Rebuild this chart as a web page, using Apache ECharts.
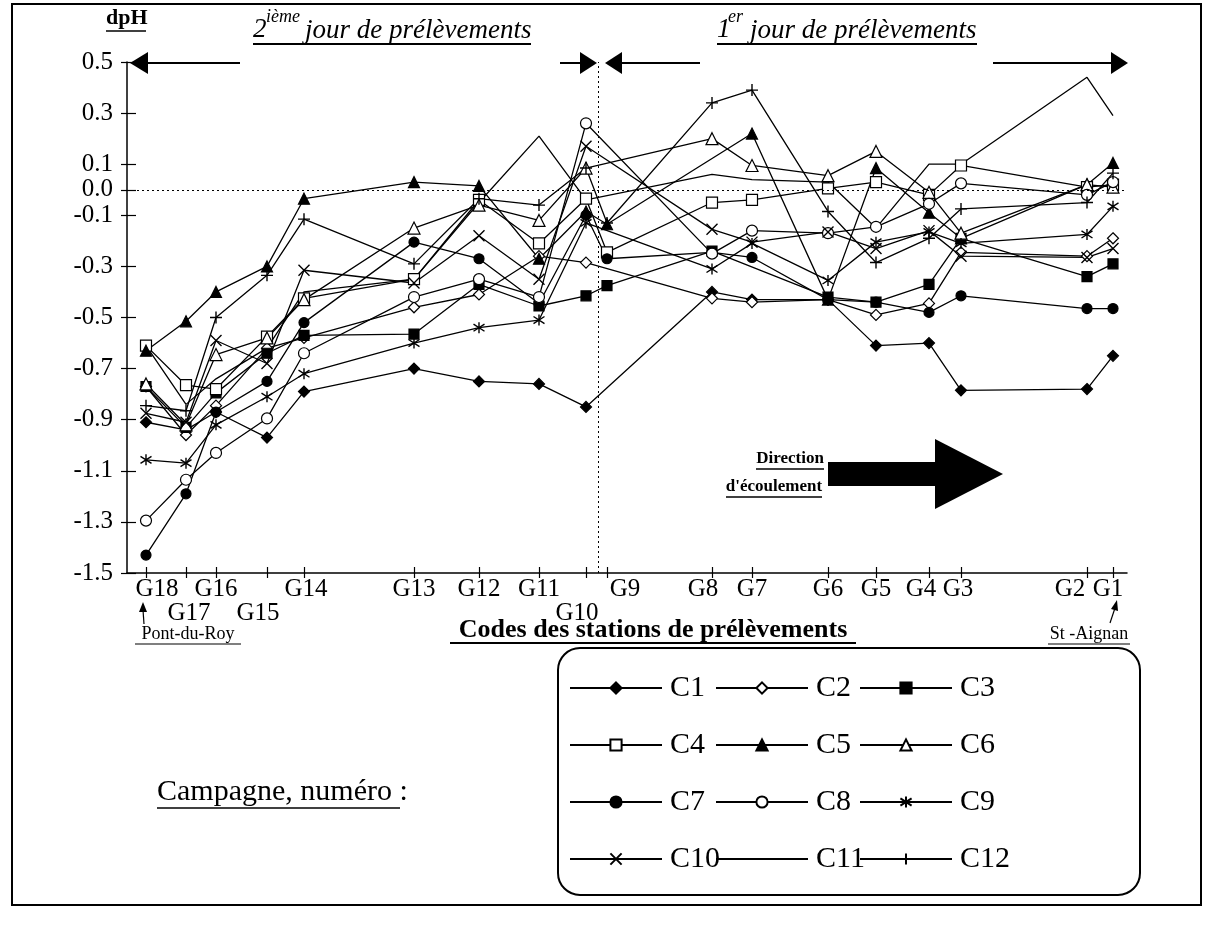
<!DOCTYPE html>
<html><head><meta charset="utf-8">
<script src="https://cdn.jsdelivr.net/npm/echarts@6/dist/echarts.min.js"></script>
<style>html,body{margin:0;padding:0;background:#fff}#c{width:1215px;height:929px}</style>
</head><body><div id="c"></div>
<script>
// ---------------- data ----------------
const stations = ['G18','G17','G16','G15','G14','G13','G12','G11','G10','G9','G8','G7','G6','G5','G4','G3','G2','G1'];
const stationKm = [1.9,5.9,8.9,14.0,17.7,28.7,35.2,41.2,45.9,48.0,58.5,62.5,70.1,74.9,80.2,83.4,96.0,98.6];
const lowerLabels = ['G17','G15','G10'];
const yTickValues = [0.5,0.3,0.1,0.0,-0.1,-0.3,-0.5,-0.7,-0.9,-1.1,-1.3,-1.5];
const dayBoundaryKm = 47.1;
const campaigns = ['C1','C2','C3','C4','C5','C6','C7','C8','C9','C10','C11','C12'];
//            G18    G17    G16    G15    G14    G13    G12    G11    G10    G9     G8     G7     G6     G5     G4     G3     G2     G1
const C1  = [-0.91,-0.94,-0.87,-0.97,-0.79,-0.70,-0.75,-0.76,-0.85, null,-0.40,-0.43,-0.43,-0.61,-0.60,-0.785,-0.78,-0.65];
const C2  = [-0.77,-0.96,-0.845,-0.62,-0.58,-0.46,-0.41,-0.26,-0.285,null,-0.425,-0.44,-0.43,-0.49,-0.445,-0.245,-0.26,-0.19];
const C3  = [-0.77,-0.93,-0.795,-0.64,-0.57,-0.565,-0.37,-0.455,-0.415,-0.375,-0.24,null,-0.42,-0.44,-0.37,-0.19,-0.34,-0.29];
const C4  = [-0.61,-0.765,-0.78,-0.575,-0.425,-0.35,-0.04,-0.21,-0.035,-0.245,-0.05,-0.04,0.005,0.03,-0.02,0.095,0.01,0.02];
const C5  = [-0.63,-0.515,-0.40,-0.30,-0.035,0.03,0.015,-0.27,-0.085,-0.135,null,0.22,-0.43,0.085,-0.09,-0.19,0.02,0.105];
const C6  = [-0.76,-0.92,-0.645,-0.58,-0.43,-0.15,-0.06,-0.12,0.085,null,0.20,0.095,0.055,0.15,-0.01,-0.17,0.02,0.01];
const C7  = [-1.43,-1.19,-0.87,-0.75,-0.52,-0.205,-0.27,-0.445,-0.10,-0.27,-0.245,-0.265,-0.43,-0.44,-0.48,-0.415,-0.465,-0.465];
const C8  = [-1.295,-1.135,-1.03,-0.895,-0.64,-0.42,-0.35,-0.42,0.26,null,-0.25,-0.16,-0.17,-0.145,-0.055,0.025,-0.02,0.03];
const C9  = [-1.057,-1.07,-0.92,-0.81,-0.72,-0.60,-0.54,-0.51,-0.13,null,-0.31,-0.21,-0.355,-0.205,-0.165,-0.21,-0.175,-0.065];
const C10 = [-0.875,-0.91,-0.59,-0.68,-0.315,-0.365,-0.18,-0.35,0.17,null,-0.155,-0.205,-0.165,-0.23,-0.16,-0.26,-0.265,-0.23];
const C11 = [-0.61,-0.84,-0.74,-0.62,-0.40,-0.35,-0.05,0.21,-0.04,null,0.06,0.04,0.03,-0.15,0.10,0.10,0.44,0.29];
const C12 = [-0.845,-0.865,-0.50,-0.335,-0.115,-0.29,-0.035,-0.06,0.085,-0.13,0.34,0.39,-0.085,-0.285,-0.19,-0.075,-0.05,0.065];
const allValues = [C1,C2,C3,C4,C5,C6,C7,C8,C9,C10,C11,C12];

// ---------------- styles ----------------
const FONT = '"Liberation Serif","Times New Roman",serif';
const BLK = '#000';
const P_X = 'path://M0 0L10 10M10 0L0 10';
const P_PLUS = 'path://M5 0L5 10M0 5L10 5';
const P_AST = 'path://M5 0L5 10M0.7 1.8L9.3 8.2M9.3 1.8L0.7 8.2';
const markerStyles = [
  {symbol:'diamond', size:11, fill:BLK},
  {symbol:'diamond', size:11, fill:'#fff'},
  {symbol:'rect', size:10, fill:BLK},
  {symbol:'rect', size:11, fill:'#fff'},
  {symbol:'triangle', size:11, fill:BLK},
  {symbol:'triangle', size:12, fill:'#fff'},
  {symbol:'circle', size:10, fill:BLK},
  {symbol:'circle', size:11, fill:'#fff'},
  {symbol:P_AST, size:11, fill:'transparent'},
  {symbol:P_X, size:11, fill:'transparent'},
  {symbol:'none', size:0, fill:BLK},
  {symbol:P_PLUS, size:12, fill:'transparent'}
];
// horizontal nudge of some station labels (axis units) as in the original layout
const labelNudge = {G18:1.1, G17:0.3, G15:-0.9, G14:0.2, G10:-0.9, G9:1.8, G8:-0.9, G4:-0.8, G3:-0.3, G2:-1.7, G1:-0.5};
const upperPos = [], upperName = [], lowerPos = [], lowerName = [];
stations.forEach((s,i)=>{
  const p = +(stationKm[i] + (labelNudge[s]||0)).toFixed(3);
  if(lowerLabels.includes(s)){ lowerPos.push(p); lowerName.push(s); }
  else { upperPos.push(p); upperName.push(s); }
});
const nameAt = (pos, names) => (v) => { const i = pos.findIndex(k=>Math.abs(k-v)<1e-6); return i<0?'':names[i]; };

const series = campaigns.map((name,k)=>{
  const m = markerStyles[k];
  const data = [];
  allValues[k].forEach((v,i)=>{ if(v!==null) data.push([stationKm[i], v]); });
  const s = {
    name, type:'line', data, xAxisIndex:0, yAxisIndex:0,
    symbol:m.symbol, symbolSize:m.size, showSymbol: m.symbol!=='none',
    lineStyle:{color:BLK, width:1.3},
    itemStyle:{color:m.fill, borderColor:BLK, borderWidth: (m.fill==='transparent')?1.4:1.2},
    emphasis:{disabled:true}, silent:true, z: 3
  };
  if(k===0){
    s.markLine = {silent:true, symbol:['none','none'], label:{show:false},
      lineStyle:{type:[2,3], color:BLK, width:1},
      data:[{xAxis:dayBoundaryKm},{yAxis:0}]};
  }
  return s;
});

const legendBase = {orient:'vertical', top:673, padding:0, itemWidth:92, itemHeight:14, itemGap:27,
  selectedMode:false, textStyle:{fontSize:30, fontFamily:FONT, color:BLK, lineHeight:30, padding:[0,0,0,3]}};

const T = (text, x, y, font, align) => ({type:'text', silent:true, style:{text, x, y, font, fill:BLK, align:align||'left', verticalAlign:'middle'}});
const L = (x1,y1,x2,y2,w) => ({type:'line', silent:true, shape:{x1,y1,x2,y2}, style:{stroke:BLK, lineWidth:w||1.5}});
const P = (pts) => ({type:'polygon', silent:true, shape:{points:pts}, style:{fill:BLK}});

const graphics = [
  {type:'rect', silent:true, shape:{x:12,y:4,width:1189,height:901}, style:{fill:'none', stroke:BLK, lineWidth:2}},
  // y title
  T('dpH', 106, 18, 'bold 22px '+FONT), L(106,31,146,31,1.5),
  // day 2 banner
  P([[130,63],[148,52],[148,74]]), L(146,63,240,63,2),
  T('2', 253, 30, 'italic 27px '+FONT), T('ième', 266, 17, 'italic 18px '+FONT),
  T('jour de prélèvements', 305, 31, 'italic 27px '+FONT), L(253,44,531,44,2),
  L(560,63,582,63,2), P([[597,63],[580,52],[580,74]]),
  // day 1 banner
  P([[605,63],[622,52],[622,74]]), L(620,63,700,63,2),
  T('1', 717, 30, 'italic 27px '+FONT), T('er', 728, 17, 'italic 18px '+FONT),
  T('jour de prélèvements', 750, 31, 'italic 27px '+FONT), L(717,44,977,44,2),
  L(993,63,1112,63,2), P([[1128,63],[1111,52],[1111,74]]),
  // flow direction
  T('Direction', 790, 459, 'bold 17px '+FONT, 'center'), L(756,469,824,469,1.5),
  T("d'écoulement", 774, 487, 'bold 17px '+FONT, 'center'), L(726,497,822,497,1.5),
  {type:'rect', silent:true, shape:{x:828,y:462,width:108,height:24}, style:{fill:BLK}},
  P([[935,439],[1003,474],[935,509]]),
  // x title & endpoints
  T('Codes des stations de prélèvements', 653, 630, 'bold 26px '+FONT, 'center'), L(450,643,856,643,2),
  T('Pont-du-Roy', 188, 634, '18px '+FONT, 'center'), L(135,644,241,644,1.2),
  L(144,624,143,610,1.2), P([[143,602],[139,612],[147,612]]),
  T('St -Aignan', 1089, 634, '18px '+FONT, 'center'), L(1048,644,1130,644,1.2),
  L(1110,623,1115,608,1.2), P([[1117,600],[1111,609],[1118,611]]),
  // legend frame
  {type:'rect', silent:true, shape:{x:558,y:648,width:582,height:247,r:22}, style:{fill:'none', stroke:BLK, lineWidth:2}},
  T('Campagne, numéro :', 157, 792, '30px '+FONT), L(157,808,400,808,1.5)
];

const labelStyle = {fontSize:25, fontFamily:FONT, color:BLK, showMinLabel:true, showMaxLabel:true};
const option = {
  animation:false,
  backgroundColor:'#fff',
  grid:{left:127, right:88, top:62, bottom:356, containLabel:false},
  xAxis:[
    {type:'value', min:0, max:100, position:'bottom',
      axisLine:{show:true, onZero:false, lineStyle:{color:BLK, width:1.5}},
      axisTick:{show:true, customValues:stationKm, length:5, inside:false, lineStyle:{color:BLK, width:1.2}},
      axisLabel:Object.assign({show:true, customValues:upperPos, margin:4, formatter:nameAt(upperPos, upperName)}, labelStyle),
      splitLine:{show:false}},
    {type:'value', min:0, max:100, position:'bottom', gridIndex:0,
      axisLine:{show:false, onZero:false}, axisLabel:{show:false}, splitLine:{show:false},
      axisTick:{show:true, customValues:stationKm, length:6, inside:true, lineStyle:{color:BLK, width:1.2}}},
    {type:'value', min:0, max:100, position:'bottom', gridIndex:0,
      axisLine:{show:false, onZero:false}, axisTick:{show:false}, splitLine:{show:false},
      axisLabel:Object.assign({show:true, customValues:lowerPos, margin:28, formatter:nameAt(lowerPos, lowerName)}, labelStyle)}
  ],
  yAxis:[
    {type:'value', min:-1.5, max:0.5, position:'left',
      axisLine:{show:true, onZero:false, lineStyle:{color:BLK, width:1.5}},
      axisTick:{show:true, customValues:yTickValues, length:6, lineStyle:{color:BLK, width:1.2}},
      axisLabel:Object.assign({show:true, customValues:yTickValues, margin:14,
        formatter:(v)=>(Math.abs(v)<1e-9? '0.0' : v.toFixed(1))}, labelStyle),
      splitLine:{show:false}},
    {type:'value', min:-1.5, max:0.5, position:'left',
      axisLine:{show:false, onZero:false}, axisLabel:{show:false}, splitLine:{show:false},
      axisTick:{show:true, customValues:yTickValues, length:9, inside:true, lineStyle:{color:BLK, width:1.2}}}
  ],
  legend:[
    Object.assign({left:569, data:['C1','C4','C7','C10']}, legendBase),
    Object.assign({left:715, data:['C2','C5','C8',{name:'C11', itemStyle:{opacity:0}}]}, legendBase),
    Object.assign({left:859, data:['C3','C6','C9','C12']}, legendBase)
  ],
  graphic:graphics,
  series
};
const chart = echarts.init(document.getElementById('c'), null, {renderer:'canvas'});
chart.setOption(option);
</script></body></html>
